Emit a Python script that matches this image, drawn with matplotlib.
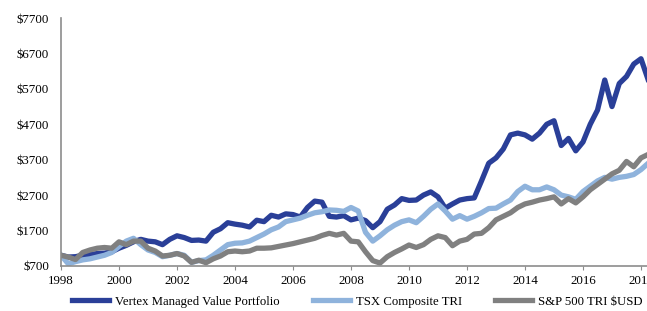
import numpy as np
import matplotlib.pyplot as plt
from matplotlib.ticker import FuncFormatter

# quarterly points, 1998.00 .. 2018.25
years = np.arange(1998, 2018.26, 0.25)

vertex = [1000, 950, 960, 1000, 1020, 1050, 1060, 1100,
          1200, 1280, 1380, 1450, 1400, 1380, 1300, 1450,
          1550, 1500, 1420, 1430, 1400, 1650, 1750, 1920,
          1880, 1850, 1800, 1990, 1950, 2130, 2080, 2170,
          2150, 2080, 2350, 2530, 2500, 2100, 2080, 2120,
          2000, 2050, 1980, 1780, 1950, 2300, 2420, 2600,
          2550, 2560, 2700, 2790, 2650, 2330, 2450, 2560,
          2600, 2620, 3100, 3600, 3750, 4000, 4400, 4450,
          4400, 4280, 4450, 4700, 4800, 4100, 4300, 3950,
          4200, 4700, 5100, 5950, 5200, 5850, 6050, 6400,
          6550, 5950]

tsx = [1000, 760, 820, 870, 900, 950, 1000, 1080,
       1250, 1400, 1480, 1300, 1150, 1080, 960, 1000,
       1050, 1000, 800, 850, 870, 1000, 1150, 1300,
       1340, 1350, 1400, 1500, 1600, 1720, 1800, 1950,
       2000, 2050, 2130, 2200, 2230, 2280, 2270, 2240,
       2350, 2250, 1650, 1400, 1550, 1720, 1850, 1950,
       2000, 1920, 2100, 2300, 2450, 2250, 2020, 2120,
       2020, 2100, 2200, 2320, 2330, 2450, 2560, 2800,
       2950, 2850, 2850, 2930, 2850, 2700, 2650, 2580,
       2800, 2950, 3100, 3200, 3150, 3200, 3230, 3280,
       3420, 3600]

sp500 = [1000, 950, 880, 1080, 1150, 1200, 1220, 1200,
         1380, 1300, 1400, 1400, 1200, 1120, 980, 1000,
         1050, 980, 800, 860, 790, 900, 980, 1100,
         1120, 1100, 1120, 1200, 1200, 1210, 1250, 1290,
         1330, 1380, 1430, 1480, 1560, 1620, 1570, 1620,
         1400, 1380, 1100, 850, 780, 960, 1080, 1180,
         1290, 1220, 1300, 1450, 1550, 1500, 1270, 1400,
         1450, 1600, 1620, 1780, 2000, 2100, 2200, 2350,
         2450, 2500, 2560, 2600, 2650, 2450, 2600, 2480,
         2650, 2850, 3000, 3150, 3300, 3400, 3650, 3500,
         3750, 3850]

labels = ['Vertex Managed Value Portfolio', 'TSX Composite TRI', 'S&P 500 TRI $USD']
colors = ['#2a3f98', '#8fb3dc', '#808080']

plt.rcParams['font.family'] = ['Liberation Serif', 'DejaVu Serif']

fig = plt.figure(figsize=(6.47, 3.11), dpi=100)
ax = fig.add_axes([61 / 647, 0.145, 594.5 / 647, 0.797])

for series, lab, col in zip([vertex, tsx, sp500], labels, colors):
    ax.plot(years, series, color=col, lw=3.8, label=lab, solid_joinstyle='round')

ax.set_xlim(1998, 2018.5)
ax.set_ylim(700, 7700)
ax.set_xticks(np.arange(1998, 2019, 2))
ax.set_yticks(np.arange(700, 7701, 1000))
ax.yaxis.set_major_formatter(FuncFormatter(lambda v, p: '${:.0f}'.format(v)))

for s in ['top', 'right']:
    ax.spines[s].set_visible(False)
for s in ['left', 'bottom']:
    ax.spines[s].set_color('#8c8c8c')
    ax.spines[s].set_linewidth(1.2)
ax.tick_params(colors='#8c8c8c', labelcolor='black', length=3, labelsize=9.3)
ax.tick_params(axis='y', length=0, pad=8.5)

fig.legend(loc='center', bbox_to_anchor=(0.552, 0.03), ncol=3, frameon=False,
           handlelength=2.9, columnspacing=2.6, handletextpad=0.45, fontsize=9.2)

fig.savefig('out.png', dpi=100)
